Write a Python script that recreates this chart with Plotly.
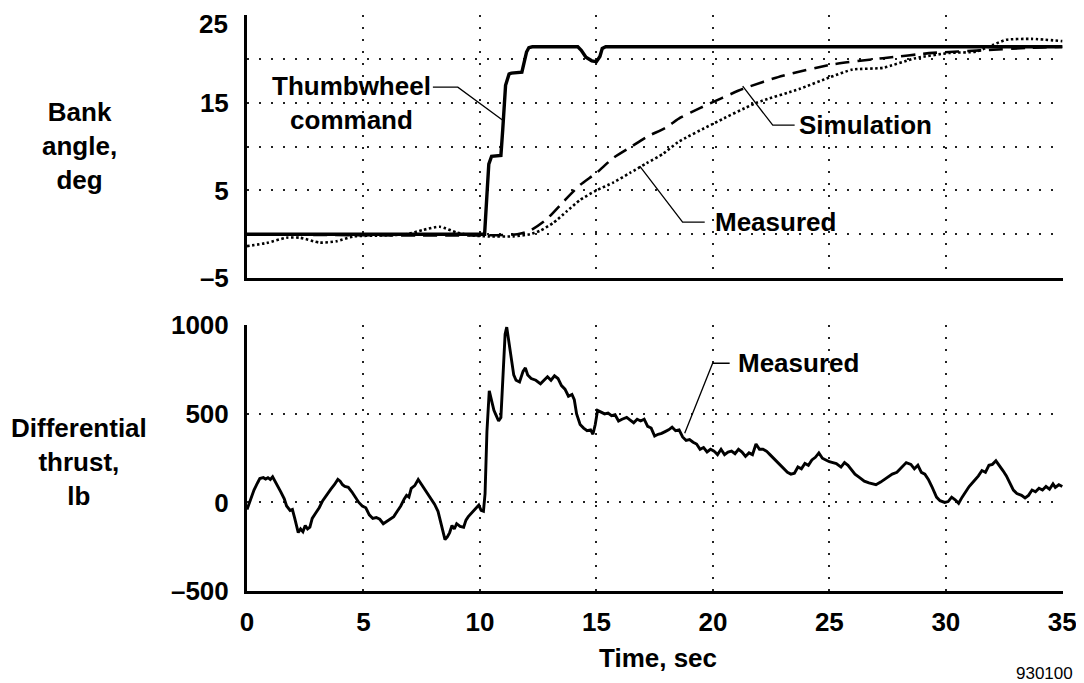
import plotly.graph_objects as go

# ---------------- data ----------------
cmd_t = [0, 10.2, 10.3, 10.38, 10.5, 10.9, 10.98, 11.1, 11.25, 11.35, 11.8, 11.9, 12.0, 12.1,
         12.25, 14.2, 14.35, 14.55, 14.8, 15.0, 15.15, 15.25, 15.4, 35]
cmd_y = [0.0, 0.0, 4.5, 8.0, 8.9, 9.0, 12.0, 17.0, 18.3, 18.4, 18.5, 19.6, 20.8, 21.3,
         21.4, 21.4, 21.0, 20.2, 19.8, 19.7, 20.3, 21.2, 21.4, 21.4]

sim_t = [0, 11.6, 12.15, 12.86, 13.58, 14.29, 15.0, 15.72, 16.5, 17.15, 18.0, 18.6, 19.44,
         21.3, 23.0, 25.16, 27.3, 29.46, 31.6, 33.7, 35]
sim_y = [0.0, 0.0, 0.4, 1.7, 3.7, 5.6, 7.0, 8.7, 10.0, 11.1, 12.2, 13.3, 14.4,
         16.6, 18.1, 19.4, 20.1, 20.7, 21.0, 21.3, 21.4]

meas_t = [0, 0.84, 1.7, 2.27, 3.13, 3.85, 4.56, 5.7, 6.85, 7.57, 8.28, 9.0, 9.7, 10.4, 11.43,
          12.15, 12.58, 13.15, 13.72, 14.29, 15.0, 15.72, 16.44, 17.15, 17.87, 18.5, 20.0,
          21.87, 23.73, 25.0, 26.0, 27.3, 28.7, 30.17, 31.3, 32.0, 32.6, 33.7, 35]
meas_y = [-1.36, -1.0, -0.4, -0.4, -0.96, -0.8, -0.26, -0.15, 0.0, 0.5, 0.85, 0.2, -0.15, -0.25,
          -0.25, 0.0, 0.4, 1.3, 2.6, 3.9, 5.0, 5.9, 7.0, 8.1, 9.2, 10.5, 12.6,
          15.0, 16.6, 17.9, 18.8, 19.0, 20.1, 20.7, 20.85, 21.6, 22.2, 22.3, 22.05]

thr_t = [0.0, 0.15, 0.3, 0.45, 0.55, 0.7, 0.8, 0.9, 1.0, 1.1, 1.2, 1.3, 1.45, 1.6, 1.7, 1.85,
         1.95, 2.05, 2.2, 2.3, 2.4, 2.5, 2.6, 2.7, 2.8, 2.95, 3.1, 3.25, 3.4, 3.5, 3.6, 3.75,
         3.9, 4.0, 4.1, 4.2, 4.35, 4.5, 4.65, 4.8, 4.95, 5.1, 5.25, 5.4, 5.55, 5.7, 5.85, 6.0,
         6.15, 6.3, 6.45, 6.6, 6.75, 6.85, 6.95, 7.05, 7.2, 7.35, 7.5, 7.6, 7.75, 7.9, 8.05,
         8.2, 8.35, 8.5, 8.6, 8.7, 8.8, 8.9, 9.0, 9.15, 9.3, 9.4, 9.5, 9.65, 9.8, 9.95, 10.05,
         10.15, 10.22, 10.3, 10.4, 10.5, 10.6, 10.7, 10.8, 10.9, 10.98, 11.08, 11.15, 11.25,
         11.35, 11.45, 11.55, 11.7, 11.85, 11.95, 12.05, 12.2, 12.4, 12.6, 12.75, 12.9, 13.05,
         13.2, 13.35, 13.5, 13.65, 13.8, 13.95, 14.05, 14.15, 14.3, 14.45, 14.6, 14.75, 14.85,
         14.95, 15.05, 15.2, 15.35, 15.5, 15.65, 15.8, 15.95, 16.1, 16.3, 16.45, 16.6, 16.75,
         16.9, 17.05, 17.2, 17.35, 17.5, 17.65, 17.8, 17.95, 18.1, 18.25, 18.4, 18.55, 18.7,
         18.85, 19.0, 19.15, 19.3, 19.45, 19.6, 19.75, 19.9, 20.05, 20.2, 20.35, 20.5, 20.65,
         20.8, 20.95, 21.1, 21.25, 21.4, 21.55, 21.7, 21.85, 22.0, 22.15, 22.3, 22.45, 22.6,
         22.75, 22.9, 23.05, 23.2, 23.35, 23.5, 23.65, 23.8, 23.95, 24.1, 24.25, 24.4, 24.55,
         24.7, 24.85, 25.0, 25.15, 25.3, 25.5, 25.65, 25.8, 25.95, 26.1, 26.3, 26.5, 26.7,
         26.85, 27.0, 27.2, 27.35, 27.5, 27.7, 27.9, 28.1, 28.3, 28.5, 28.65, 28.8, 28.95,
         29.1, 29.25, 29.4, 29.6, 29.75, 29.95, 30.1, 30.25, 30.4, 30.55, 30.7, 30.85, 31.0,
         31.2, 31.4, 31.55, 31.7, 31.85, 32.0, 32.15, 32.3, 32.45, 32.6, 32.75, 32.9, 33.05,
         33.25, 33.4, 33.55, 33.7, 33.85, 34.0, 34.15, 34.3, 34.45, 34.6, 34.7, 34.85, 35.0]
thr_v = [-40, 20, 70, 110, 135, 140, 132, 140, 130, 145, 118, 100, 60, 20, -20, -45,
         -40, -90, -170, -150, -165, -130, -150, -140, -90, -60, -30, 10, 40, 60, 75, 100,
         130, 120, 100, 90, 85, 60, 30, 0, -20, -30, -70, -90, -85, -95, -120, -105,
         -90, -80, -50, -20, 20, 40, 30, 80, 95, 130, 100, 80, 50, 20, -10,
         -50, -130, -210, -195, -170, -130, -150, -120, -135, -140, -100, -80, -60, -40, -15, -45,
         -50, 50, 400, 630, 580, 520, 490, 460, 480, 700, 950, 990, 900,
         790, 720, 690, 680, 740, 760, 720, 700, 690, 670, 690, 710, 690,
         715, 700, 660, 640, 600, 610, 580, 500, 440, 420, 405, 410, 385,
         440, 520, 510, 500, 505, 490, 495, 460, 470, 480, 465, 450, 470,
         460, 470, 430, 420, 375, 385, 390, 400, 410, 425, 405, 410, 370,
         350, 355, 340, 330, 300, 310, 285, 300, 290, 270, 300, 270, 285,
         290, 275, 300, 285, 260, 280, 270, 330, 300, 300, 290, 270, 250,
         230, 210, 185, 170, 160, 165, 200, 190, 220, 210, 240, 255, 280,
         250, 240, 230, 225, 220, 200, 225, 210, 185, 160, 140, 120, 110,
         105, 100, 115, 130, 145, 160, 170, 200, 225, 215, 190, 210, 170,
         160, 130, 90, 30, 10, 0, 5, 30, 15, -5, 30, 60, 90,
         120, 150, 180, 170, 210, 215, 235, 210, 180, 150, 110, 70, 50,
         40, 25, 40, 70, 60, 80, 70, 90, 75, 105, 85, 100, 90]

top_tickvals = [-5, 0, 5, 10, 15, 20, 25]
top_ticktext = ["\u20135", "", "5", "", "15", "", ""]
bot_tickvals = [-500, 0, 500, 1000]
bot_ticktext = ["\u2013500", "0", "500", "1000"]
x_tickvals = [0, 5, 10, 15, 20, 25, 30, 35]

FONT = "Liberation Sans, Arial, sans-serif"
GRID_DASH = "2px,10px"

fig = go.Figure()
fig.add_trace(go.Scatter(x=cmd_t, y=cmd_y, mode="lines", xaxis="x2", yaxis="y2",
                         line=dict(color="black", width=3.4), showlegend=False))
fig.add_trace(go.Scatter(x=sim_t, y=sim_y, mode="lines", xaxis="x2", yaxis="y2",
                         line=dict(color="black", width=2.6, dash="14px,8px", shape="spline", smoothing=0.6),
                         showlegend=False))
fig.add_trace(go.Scatter(x=meas_t, y=meas_y, mode="lines", xaxis="x2", yaxis="y2",
                         line=dict(color="black", width=2.6, dash="2.5px,2.5px", shape="spline", smoothing=0.6),
                         showlegend=False))
fig.add_trace(go.Scatter(x=thr_t, y=thr_v, mode="lines", xaxis="x", yaxis="y",
                         line=dict(color="black", width=2.9), showlegend=False))

axis_common = dict(showline=True, linecolor="black", linewidth=3, mirror=False,
                   showgrid=True, gridcolor="#222", gridwidth=1.5, griddash=GRID_DASH,
                   zeroline=False, ticks="", automargin=False,
                   tickfont=dict(family=FONT, size=26, color="black", weight="bold"))

# the page body adds an 8px offset; figure is sized so that it fills the window
fig.update_layout(
    width=1076, height=675,
    margin=dict(l=239, r=21, t=7, b=92),
    paper_bgcolor="white", plot_bgcolor="white",
    xaxis=dict(domain=[0, 1], range=[0, 35.03], tickvals=x_tickvals, anchor="y",
               ticklabelstandoff=6, **axis_common),
    yaxis=dict(domain=[0, 0.4618], range=[-500, 1002], tickvals=bot_tickvals,
               ticktext=bot_ticktext, anchor="x", ticklabelstandoff=10, **axis_common),
    xaxis2=dict(domain=[0, 1], range=[0, 35.03], tickvals=x_tickvals, anchor="y2",
                showticklabels=False, matches="x", **axis_common),
    yaxis2=dict(domain=[0.5434, 1], range=[-5, 25.03], tickvals=top_tickvals,
                ticktext=top_ticktext, anchor="x2", ticklabelstandoff=10, **axis_common),
)

lab_font = dict(family=FONT, size=26, color="black", weight="bold")

# top tick label "25" (placed slightly below the frame top, as in the original)
fig.add_annotation(text="25", xref="paper", yref="y2", x=-0.0208, y=24.05,
                   xanchor="right", yanchor="middle", showarrow=False,
                   font=dict(family=FONT, size=26, color="black", weight="bold"))

# axis titles
fig.add_annotation(text="Bank<br>angle,<br>deg", xref="paper", yref="paper",
                   x=-0.2047, y=0.7726, xanchor="center", yanchor="middle",
                   showarrow=False, font=lab_font, align="center")
fig.add_annotation(text="Differential<br>thrust,<br>lb", xref="paper", yref="paper",
                   x=-0.206, y=0.224, xanchor="center", yanchor="middle",
                   showarrow=False, font=lab_font, align="center")
fig.add_annotation(text="Time, sec", xref="paper", yref="paper",
                   x=0.504, y=-0.1163, xanchor="center", yanchor="middle",
                   showarrow=False, font=lab_font)
fig.add_annotation(text="930100", xref="paper", yref="paper",
                   x=0.977, y=-0.144, xanchor="center", yanchor="middle", showarrow=False,
                   font=dict(family=FONT, size=17, color="black"))

# callouts
fig.add_annotation(text="Thumbwheel<br>command", xref="x2", yref="y2", x=4.5, y=14.96,
                   xanchor="center", yanchor="middle",
                   showarrow=False, font=lab_font, align="center")
fig.add_annotation(text="Simulation", xref="x2", yref="y2", x=26.55, y=12.45,
                   xanchor="center", yanchor="middle", showarrow=False, font=lab_font)
fig.add_annotation(text="Measured", xref="x2", yref="y2", x=22.7, y=1.39,
                   xanchor="center", yanchor="middle", showarrow=False, font=lab_font)
fig.add_annotation(text="Measured", xref="x", yref="y", x=23.66, y=786,
                   xanchor="center", yanchor="middle", showarrow=False, font=lab_font)

leader = dict(color="black", width=1.3)
fig.add_shape(type="path", xref="x2", yref="y2",
              path="M 7.98 16.79 L 9.05 16.79 L 10.98 13.02", line=leader)
fig.add_shape(type="path", xref="x2", yref="y2",
              path="M 21.28 16.9 L 22.57 12.45 L 23.51 12.45", line=leader)
fig.add_shape(type="path", xref="x2", yref="y2",
              path="M 16.86 7.78 L 18.70 1.39 L 19.65 1.39", line=leader)
fig.add_shape(type="path", xref="x", yref="y",
              path="M 18.79 391 L 19.99 786 L 20.72 786", line=leader)

fig.write_html("out.html")
